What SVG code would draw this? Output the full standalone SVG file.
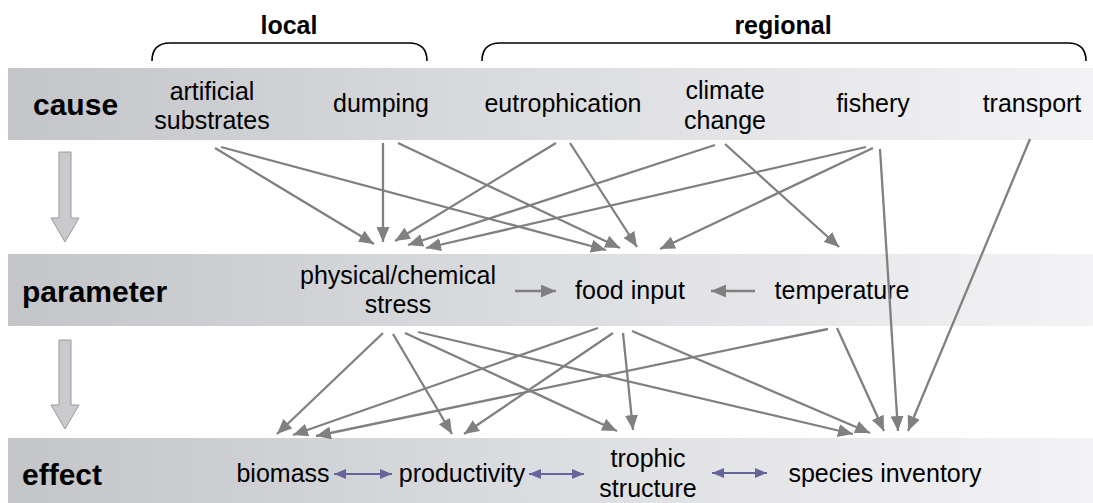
<svg xmlns="http://www.w3.org/2000/svg" width="1093" height="503" viewBox="0 0 1093 503">
<defs>
<linearGradient id="band" x1="0" y1="0" x2="1" y2="0">
<stop offset="0" stop-color="#c3c5c9"/>
<stop offset="0.5" stop-color="#dcdde0"/>
<stop offset="1" stop-color="#f3f3f5"/>
</linearGradient>
<marker id="ah" markerUnits="userSpaceOnUse" markerWidth="16" markerHeight="13" refX="15" refY="6.5" orient="auto">
<path d="M0,0 L15,6.5 L0,13 z" fill="#808080"/>
</marker>
<marker id="ph" markerUnits="userSpaceOnUse" markerWidth="13" markerHeight="10" refX="12" refY="5" orient="auto-start-reverse">
<path d="M0,0 L12,5 L0,10 z" fill="#65659b"/>
</marker>
</defs>
<style>
.t{font-family:"Liberation Sans",Arial,sans-serif;font-size:25px;fill:#000;text-anchor:middle}
.h{font-family:"Liberation Sans",Arial,sans-serif;font-size:30px;font-weight:bold;fill:#000}
.g{font-family:"Liberation Sans",Arial,sans-serif;font-size:25px;font-weight:bold;fill:#000;text-anchor:middle}
.c{stroke:#808080;stroke-width:2.3;fill:none;marker-end:url(#ah)}
.p{stroke:#65659b;stroke-width:2.2;fill:none;marker-start:url(#ph);marker-end:url(#ph)}
.br{stroke:#000;stroke-width:1.6;fill:none}
.blk{fill:#c9cacd;stroke:#9a9a9a;stroke-width:1}
</style>
<rect width="1093" height="503" fill="#fff"/>
<g id="bands">
<rect x="8" y="68" width="1085" height="72" fill="url(#band)"/>
<rect x="8" y="254" width="1085" height="72" fill="url(#band)"/>
<rect x="8" y="438" width="1085" height="65" fill="url(#band)"/>
</g>
<g id="brackets">
<path class="br" d="M152,61 Q152,43 170,43 L409,43 Q427,43 427,61"/>
<text class="g" x="289" y="34">local</text>
<path class="br" d="M482,61 Q482,43 500,43 L1068,43 Q1086,43 1086,61"/>
<text class="g" x="783" y="34">regional</text>
</g>
<g id="block-arrows">
<path class="blk" d="M59,152 L71,152 L71,218 L79,218 L65,242 L51,218 L59,218 z"/>
<path class="blk" d="M59,340 L71,340 L71,405 L79,405 L65,429 L51,405 L59,405 z"/>
</g>
<g id="row-labels">
<text class="h" x="33" y="115">cause</text>
<text class="h" x="22" y="302">parameter</text>
<text class="h" x="22" y="485">effect</text>
</g>
<g id="artificial-substrates"><text class="t" x="212" y="100">artificial</text><text class="t" x="212" y="129">substrates</text></g>
<g id="dumping"><text class="t" x="381" y="112">dumping</text></g>
<g id="eutrophication"><text class="t" x="563" y="112">eutrophication</text></g>
<g id="climate-change"><text class="t" x="725" y="99">climate</text><text class="t" x="725" y="129">change</text></g>
<g id="fishery"><text class="t" x="873" y="112">fishery</text></g>
<g id="transport"><text class="t" x="1032" y="112">transport</text></g>
<g id="physical-chemical-stress"><text class="t" x="398" y="284">physical/chemical</text><text class="t" x="398" y="313">stress</text></g>
<g id="food-input"><text class="t" x="630" y="299">food input</text></g>
<g id="temperature"><text class="t" x="842" y="299">temperature</text></g>
<g id="biomass"><text class="t" x="283" y="482">biomass</text></g>
<g id="productivity"><text class="t" x="462" y="482">productivity</text></g>
<g id="trophic-structure"><text class="t" x="648" y="467">trophic</text><text class="t" x="648" y="497">structure</text></g>
<g id="species-inventory"><text class="t" x="885" y="482">species inventory</text></g>
<g id="connectors">
<line class="c" x1="215" y1="148" x2="374" y2="244"/>
<line class="c" x1="221" y1="147" x2="606" y2="250"/>
<line class="c" x1="383" y1="143" x2="383" y2="242"/>
<line class="c" x1="398" y1="143" x2="620" y2="248"/>
<line class="c" x1="556" y1="143" x2="395" y2="241"/>
<line class="c" x1="570" y1="143" x2="637" y2="247"/>
<line class="c" x1="715" y1="145" x2="408" y2="245"/>
<line class="c" x1="725" y1="144" x2="839" y2="247"/>
<line class="c" x1="866" y1="147" x2="426" y2="248"/>
<line class="c" x1="873" y1="148" x2="660" y2="249"/>
<line class="c" x1="880" y1="149" x2="898" y2="431"/>
<line class="c" x1="1030" y1="139" x2="908" y2="431"/>
<line class="c" x1="515" y1="291" x2="556" y2="291"/>
<line class="c" x1="755" y1="291" x2="711" y2="291"/>
<line class="c" x1="383" y1="333" x2="277" y2="434"/>
<line class="c" x1="393" y1="334" x2="452" y2="434"/>
<line class="c" x1="405" y1="333" x2="617" y2="431"/>
<line class="c" x1="418" y1="332" x2="853" y2="434"/>
<line class="c" x1="598" y1="328" x2="293" y2="435"/>
<line class="c" x1="613" y1="333" x2="464" y2="434"/>
<line class="c" x1="623" y1="333" x2="633" y2="430"/>
<line class="c" x1="632" y1="331" x2="870" y2="433"/>
<line class="c" x1="828" y1="329" x2="316" y2="436"/>
<line class="c" x1="837" y1="328" x2="884" y2="431"/>
<line class="p" x1="334" y1="474" x2="392" y2="474"/>
<line class="p" x1="529" y1="474" x2="584" y2="474"/>
<line class="p" x1="712" y1="473" x2="767" y2="473"/>
</g>
</svg>
